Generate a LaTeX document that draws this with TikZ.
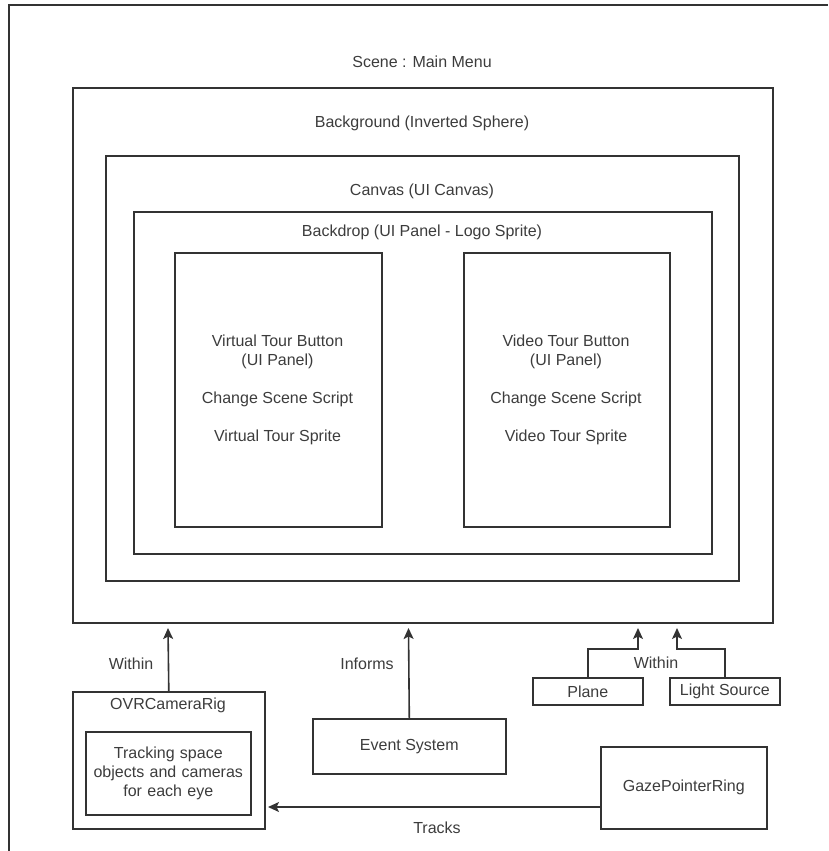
\documentclass[tikz,border=0pt]{standalone}
\usepackage{fontspec}
\setmainfont{Liberation Sans}
\usetikzlibrary{arrows.meta}
\definecolor{linec}{HTML}{333333}
\definecolor{textc}{HTML}{3C3C3C}
\begin{document}
\begin{tikzpicture}[x=1pt,y=-1pt,
  box/.style={draw=linec,line width=1.6pt,rectangle,inner sep=0pt,anchor=north west,fill=none},
  lbl/.style={text=textc,font=\fontsize{16}{19}\selectfont,inner sep=0pt,align=center},
  arr/.style={draw=linec,line width=1.6pt,-{Stealth[length=11pt,width=10pt,inset=2.5pt]}},
  con/.style={draw=linec,line width=1.6pt}]
\useasboundingbox (0,0) rectangle (828,851);
% outer frame (cropped)
\coordinate (fbl) at (9,851);
\coordinate (ftl) at (9,5);
\coordinate (ftr) at (828,5);
\draw[con] (fbl) -- (ftl) -- (ftr);
\node[lbl] (scene) at (422,62) {Scene : Main Menu};
% nested boxes
\node[box,minimum width=700pt,minimum height=535pt] (bg) at (72,87) {};
\node[lbl] (bglbl) at (422,123) {Background (Inverted Sphere)};
\node[box,minimum width=633pt,minimum height=425pt] (canvas) at (105,155) {};
\node[lbl] (canvaslbl) at (422,191) {Canvas (UI Canvas)};
\node[box,minimum width=578pt,minimum height=342pt] (backdrop) at (133,211) {};
\node[lbl] (backdroplbl) at (422,232) {Backdrop (UI Panel - Logo Sprite)};
\node[box,minimum width=207pt,minimum height=274pt] (btnL) at (174,252) {};
\node[box,minimum width=206pt,minimum height=274pt] (btnR) at (463,252) {};
\node[lbl] (btnLtxt) at (277.5,389.5) {Virtual Tour Button\\(UI Panel)\\[19pt]Change Scene Script\\[19pt]Virtual Tour Sprite};
\node[lbl] (btnRtxt) at (566,389.5) {Video Tour Button\\(UI Panel)\\[19pt]Change Scene Script\\[19pt]Video Tour Sprite};
% bottom boxes
\node[box,minimum width=192pt,minimum height=137pt] (ovr) at (72,691) {};
\node[lbl] (ovrlbl) at (168,705) {OVRCameraRig};
\node[box,minimum width=165pt,minimum height=83pt] (inner) at (85,731) {};
\node[lbl,text width=160pt] (innertxt) at (inner.center) {Tracking space\\objects and cameras\\for each eye};
\node[box,minimum width=193pt,minimum height=55pt] (event) at (312,718) {};
\node[lbl] (eventtxt) at (event.center) {Event System};
\node[box,minimum width=110pt,minimum height=27pt] (plane) at (532,677) {};
\node[lbl] (planetxt) at (plane.center) {Plane};
\node[box,minimum width=110pt,minimum height=27pt] (light) at (669,677) {};
\node[lbl] (lighttxt) at (light.center) {Light Source};
\node[box,minimum width=166pt,minimum height=82pt] (gaze) at (600,746) {};
\node[lbl] (gazetxt) at (gaze.center) {GazePointerRing};
% connector points
\coordinate (ovrtip) at (168,628);
\coordinate (evtip) at (408.5,628);
\coordinate (pj) at (638,649);
\coordinate (ptip) at (638,628);
\coordinate (lj) at (677,649);
\coordinate (ltip) at (677,628);
\coordinate (gs) at (600,807);
\coordinate (gtip) at (268,807);
% connectors
\draw[arr] (ovr.north) -- (ovrtip);
\draw[arr] (event.north) -- (evtip);
\draw[arr] (plane.north) |- (pj) -- (ptip);
\draw[arr] (light.north) |- (lj) -- (ltip);
\draw[arr] (gs) -- (gtip);
% connector labels
\node[lbl] (within1) at (131,664) {Within};
\node[lbl] (informs) at (367,664) {Informs};
\node[lbl] (within2) at (656,663) {Within};
\node[lbl] (tracks) at (437,828) {Tracks};
\end{tikzpicture}
\end{document}
